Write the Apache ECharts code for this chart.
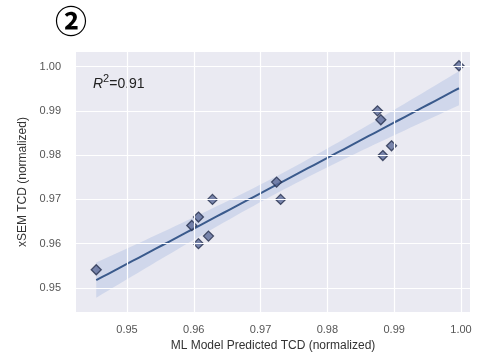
<!DOCTYPE html>
<html>
<head>
<meta charset="utf-8">
<script src="https://cdn.jsdelivr.net/npm/echarts@6/dist/echarts.min.js"></script>
<style>html,body{margin:0;padding:0;background:#fff}#c{width:477px;height:357px}</style>
</head>
<body>
<div id="c"></div>
<script>
// Data
const predicted = [0.9454, 0.9597, 0.9607, 0.9607, 0.9622, 0.9628, 0.9724, 0.9730, 0.9875, 0.9880, 0.9883, 0.9896, 0.9997];
const measured  = [0.9541, 0.9641, 0.9660, 0.9600, 0.9617, 0.9700, 0.9739, 0.9700, 0.9900, 0.9880, 0.9799, 0.9821, 1.0002];
const xTicks = [0.95, 0.96, 0.97, 0.98, 0.99, 1.00];
const yTicks = [0.95, 0.96, 0.97, 0.98, 0.99, 1.00];
const xRange = [0.94237, 1.00135];
const yRange = [0.94453, 1.0033];
const r2Label = '0.91';

// Linear fit and confidence band computed from the data
const n = predicted.length;
const mx = predicted.reduce((a,b)=>a+b,0)/n;
const my = measured.reduce((a,b)=>a+b,0)/n;
let sxx=0, sxy=0;
for (let i=0;i<n;i++){ sxx+=(predicted[i]-mx)**2; sxy+=(predicted[i]-mx)*(measured[i]-my); }
const slope = sxy/sxx, icpt = my - slope*mx;
let sse=0;
for (let i=0;i<n;i++){ sse += (measured[i]-(icpt+slope*predicted[i]))**2; }
const s = Math.sqrt(sse/(n-2));
const tval = 1.7;
const xmin = Math.min(...predicted), xmax = Math.max(...predicted);
const fitLine=[], band=[];
const steps = 60;
for (let k=0;k<=steps;k++){
  const x = xmin + (xmax-xmin)*k/steps;
  const yh = icpt + slope*x;
  const se = s*Math.sqrt(1/n + (x-mx)**2/sxx);
  fitLine.push([x, yh]);
  band.push([x, yh - tval*se, yh + tval*se]);
}

const font = '"Liberation Sans", Arial, sans-serif';
const chart = echarts.init(document.getElementById('c'), null, {renderer:'canvas'});
const gridLineSeries = {
  type:'line', data:[], silent:true, z:1,
  markLine:{
    silent:true, symbol:'none', animation:false,
    lineStyle:{color:'#ffffff', width:1.2, type:'solid'},
    label:{show:false},
    data: xTicks.map(v=>({xAxis:v})).concat(yTicks.map(v=>({yAxis:v})))
  }
};
chart.setOption({
  animation:false,
  backgroundColor:'#ffffff',
  grid:{left:76, right:7, top:52, bottom:44, show:true, backgroundColor:'#EAEAF2', borderWidth:0},
  graphic:[
    {type:'text', left:55, top:5, style:{text:'②', font:'bold 32px "Noto Sans CJK SC", "DejaVu Sans", sans-serif', fill:'#000'}},
    {type:'text', left:93, top:73, style:{
      text:'{i|R}{s|2}{n|=' + r2Label + '}',
      rich:{
        i:{fontStyle:'italic', fontSize:14, fontFamily:font, fill:'#222', verticalAlign:'bottom'},
        s:{fontSize:11, fontFamily:font, fill:'#222', padding:[0,0,7,0], verticalAlign:'bottom'},
        n:{fontSize:14, fontFamily:font, fill:'#222', verticalAlign:'bottom'}
      }}}
  ],
  xAxis:{
    type:'value', min:xRange[0], max:xRange[1],
    name:'ML Model Predicted TCD (normalized)', nameLocation:'middle', nameGap:25,
    nameTextStyle:{fontFamily:font, fontSize:12, color:'#333'},
    axisLine:{show:false}, axisTick:{show:false}, splitLine:{show:false},
    axisLabel:{customValues:xTicks, formatter:v=>v.toFixed(2), fontFamily:font, fontSize:11, color:'#555', margin:12}
  },
  yAxis:{
    type:'value', min:yRange[0], max:yRange[1],
    name:'xSEM TCD (normalized)', nameLocation:'middle', nameGap:45, nameRotate:90,
    nameTextStyle:{fontFamily:font, fontSize:12, color:'#333'},
    axisLine:{show:false}, axisTick:{show:false}, splitLine:{show:false},
    axisLabel:{customValues:yTicks, formatter:v=>v.toFixed(2), fontFamily:font, fontSize:11, color:'#555', margin:15}
  },
  series:[
    gridLineSeries,
    {type:'custom', data:band, silent:true, z:2, encode:{x:0, y:[1,2]},
      renderItem:(params, api)=>{
        if (params.dataIndex !== 0) return null;
        const upper = band.map(p=>api.coord([p[0], p[2]]));
        const low = band.map(p=>api.coord([p[0], p[1]])).reverse();
        return {type:'polygon', shape:{points:upper.concat(low)},
          style:{fill:'rgba(130,160,215,0.25)'}};
      }},
    {type:'line', data:fitLine, symbol:'none', silent:true, z:3,
      lineStyle:{color:'#3a5a8c', width:2}},
    {type:'scatter', data:predicted.map((x,i)=>[x, measured[i]]), symbol:'diamond', symbolSize:10, z:4,
      itemStyle:{color:'#5b6a98', borderColor:'#26304d', borderWidth:1.3}}
  ]
});
</script>
</body>
</html>
